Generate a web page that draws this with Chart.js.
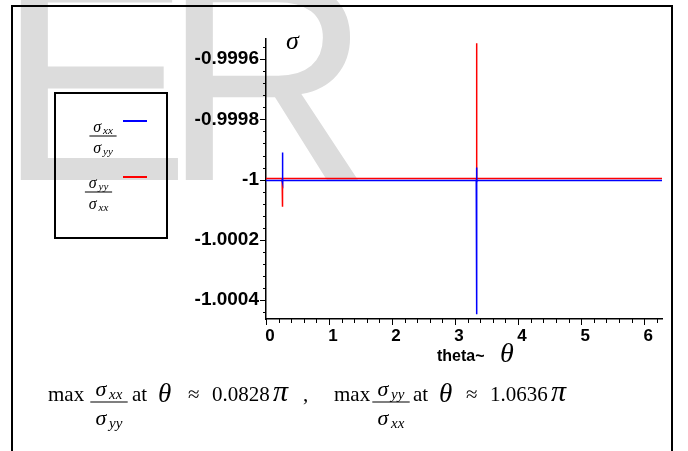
<!DOCTYPE html>
<html>
<head>
<meta charset="utf-8">
<script src="https://cdn.jsdelivr.net/npm/chart.js@4.4.1/dist/chart.umd.min.js"></script>
<style>
  html, body { margin: 0; padding: 0; background: #fff; }
  #wrap { position: relative; width: 688px; height: 451px; }
</style>
</head>
<body>
<div id="wrap"><canvas id="canvas" width="688" height="451"></canvas></div>
<script>
// values
var thetaBlue = [0, 0.256, 0.259, 0.262, 0.265, 0.268, 3.336, 3.340, 3.343, 3.346, 3.350, 6.2832];
var sigmaBlue = [-1.0000033, -1.0000033, -0.99991, -1.00001, -0.999995, -1.0000033,
    -1.0000033, -0.99996, -1.000447, -1.00001, -1.0000033, -1.0000033];
var thetaRed = [0, 0.256, 0.259, 0.262, 0.265, 3.336, 3.340, 3.343, 3.346, 6.2832];
var sigmaRed = [-0.9999967, -0.9999967, -1.000005, -1.00009, -0.9999967,
    -0.9999967, -0.999547, -1.000005, -0.9999967, -0.9999967];

var xTickValues = [0, 1, 2, 3, 4, 5, 6];
var xTickLabels = ['0', '1', '2', '3', '4', '5', '6'];
var yTickValues = [-0.9996, -0.9998, -1, -1.0002, -1.0004];
var yTickLabels = ['-0.9996', '-0.9998', '-1', '-1.0002', '-1.0004'];

// legend fractions: numerator / denominator subscripts
var legendNum = ['xx', 'yy'];
var legendDen = ['yy', 'xx'];

const serif = "'Liberation Serif', 'Times New Roman', serif";
const sans = "'Liberation Sans', Arial, sans-serif";

function pairs(xs, ys) {
    return xs.map((x, i) => ({x: x, y: ys[i]}));
}

function findLabel(values, labels, v) {
    for (let i = 0; i < values.length; i++) {
        if (Math.abs(values[i] - v) < 1e-9) return labels[i];
    }
    return '';
}

function sigmaWidth(ctx, sub, size) {
    ctx.font = 'italic ' + size + 'px ' + serif;
    let w = ctx.measureText('σ').width + size * 0.12;
    ctx.font = 'italic ' + Math.round(size * 0.68) + 'px ' + serif;
    return w + ctx.measureText(sub).width;
}

function drawSigma(ctx, sub, x, y, size) {
    ctx.textAlign = 'left';
    ctx.font = 'italic ' + size + 'px ' + serif;
    ctx.fillText('σ', x, y);
    let w = ctx.measureText('σ').width + size * 0.12;
    ctx.font = 'italic ' + Math.round(size * 0.68) + 'px ' + serif;
    ctx.fillText(sub, x + w, y + size * 0.12);
}

function drawFrac(ctx, cx, barY, numSub, denSub, size) {
    let wn = sigmaWidth(ctx, numSub, size);
    let wd = sigmaWidth(ctx, denSub, size);
    drawSigma(ctx, numSub, cx - wn / 2, barY - size * 0.27, size);
    drawSigma(ctx, denSub, cx - wd / 2, barY + size * 1.05, size);
    let bw = size * 1.7;
    ctx.fillRect(cx - bw / 2, barY - 0.5, bw, 1);
}

function word(ctx, s, x, y, font) {
    ctx.font = font;
    ctx.textAlign = 'left';
    ctx.fillText(s, x, y);
}

const decorations = {
    id: 'decorations',
    beforeDraw(chart) {
        // grey watermark behind the plot
        const ctx = chart.ctx;
        ctx.save();
        ctx.fillStyle = '#dcdcdc';
        ctx.textBaseline = 'alphabetic';
        ctx.textAlign = 'left';
        ctx.font = "290px " + sans;
        ctx.fillText('E', -3, 180);
        ctx.fillText('R', 162, 180);
        ctx.restore();
    },
    afterDraw(chart) {
        const ctx = chart.ctx;
        const xs = chart.scales.x, ys = chart.scales.y;
        ctx.save();
        ctx.strokeStyle = '#000';
        ctx.fillStyle = '#000';
        ctx.textBaseline = 'alphabetic';

        // tick marks, long for labelled ticks
        ctx.lineWidth = 1;
        ctx.beginPath();
        ys.ticks.forEach(t => {
            let py = Math.round(ys.getPixelForValue(t.value)) + 0.5;
            let len = findLabel(yTickValues, yTickLabels, t.value) ? 6 : 3;
            ctx.moveTo(chart.chartArea.left - len, py);
            ctx.lineTo(chart.chartArea.left, py);
        });
        xs.ticks.forEach(t => {
            let px = Math.round(xs.getPixelForValue(t.value)) + 0.5;
            let len = findLabel(xTickValues, xTickLabels, t.value) ? 6 : 4;
            ctx.moveTo(px, chart.chartArea.bottom);
            ctx.lineTo(px, chart.chartArea.bottom + len);
        });
        ctx.stroke();

        // axis names
        word(ctx, 'σ', 286, 49, 'italic 26px ' + serif);
        word(ctx, 'theta~', 437, 361, "bold 16px " + sans);
        word(ctx, 'θ', 500, 362, 'italic 28px ' + serif);

        // outer frame
        ctx.lineWidth = 2;
        ctx.strokeRect(12, 6, 660, 460);

        // legend
        ctx.strokeRect(55, 93, 112, 145);
        const rows = [[103, 136, 121], [98.5, 192, 177]];
        chart.data.datasets.forEach((ds, i) => {
            ctx.fillStyle = '#000';
            drawFrac(ctx, rows[i][0], rows[i][1], legendNum[i], legendDen[i], 16);
            ctx.strokeStyle = ds.borderColor;
            ctx.lineWidth = 2;
            ctx.beginPath();
            ctx.moveTo(123, rows[i][2]);
            ctx.lineTo(147, rows[i][2]);
            ctx.stroke();
        });

        // maxima line under the plot
        ctx.fillStyle = '#000';
        const f = '21px ' + serif, big = 'italic 27px ' + serif;
        word(ctx, 'max', 48, 401, f);
        drawFrac(ctx, 109, 402, 'xx', 'yy', 22);
        word(ctx, 'at', 132, 401, f);
        word(ctx, 'θ', 158, 402, big);
        word(ctx, '≈', 188, 401, f);
        word(ctx, '0.0828', 212, 401, f);
        word(ctx, 'π', 273, 401, 'italic 30px ' + serif);
        word(ctx, ',', 303, 401, f);
        word(ctx, 'max', 334, 401, f);
        drawFrac(ctx, 391, 402, 'yy', 'xx', 22);
        word(ctx, 'at', 413, 401, f);
        word(ctx, 'θ', 439, 402, big);
        word(ctx, '≈', 466, 401, f);
        word(ctx, '1.0636', 490, 401, f);
        word(ctx, 'π', 551, 401, 'italic 30px ' + serif);
        ctx.restore();
    }
};

const canvas = document.getElementById("canvas");
const data = {
    datasets: [
        {
            label: 'σxx/σyy',
            borderColor: 'rgb(0, 0, 255)',
            backgroundColor: 'rgb(0, 0, 255)',
            data: pairs(thetaBlue, sigmaBlue)
        },
        {
            label: 'σyy/σxx',
            borderColor: 'rgb(255, 0, 0)',
            backgroundColor: 'rgb(255, 0, 0)',
            data: pairs(thetaRed, sigmaRed)
        }
    ]
};
const options = {
    responsive: false,
    animation: false,
    showLine: true,
    layout: { padding: { left: 166, top: 39, right: 26, bottom: 102 } },
    elements: {
        point: { radius: 0, hoverRadius: 0 },
        line: { borderWidth: 1.5, tension: 0 }
    },
    plugins: {
        legend: { display: false },
        tooltip: { enabled: false }
    },
    scales: {
        x: {
            type: 'linear',
            min: 0,
            max: 2 * Math.PI,
            grid: { display: false, drawTicks: false },
            border: { display: true, color: '#000', width: 1.5 },
            afterBuildTicks: scale => {
                scale.ticks = [];
                for (let k = 0; k <= 31; k++) scale.ticks.push({ value: k * 0.2 });
            },
            afterFit: scale => { scale.height = 30; },
            ticks: {
                autoSkip: false,
                maxRotation: 0,
                padding: 7,
                labelOffset: 4,
                color: '#000',
                font: { family: sans, size: 17, weight: 'bold' },
                callback: value => findLabel(xTickValues, xTickLabels, value)
            }
        },
        y: {
            min: -1.000463,
            max: -0.999533,
            grid: { display: false, drawTicks: false },
            border: { display: true, color: '#000', width: 1.5 },
            afterBuildTicks: scale => {
                scale.ticks = [];
                for (let k = -11; k <= 11; k++) scale.ticks.push({ value: -1 + k * 0.00004 });
            },
            afterFit: scale => { scale.width = 100; },
            ticks: {
                autoSkip: false,
                padding: 7,
                color: '#000',
                font: { family: sans, size: 19, weight: 'bold' },
                callback: value => findLabel(yTickValues, yTickLabels, value)
            }
        }
    }
};
const config = {
    type: 'scatter',
    data: data,
    options: options,
    plugins: [decorations]
};
const chart = new Chart(canvas, config);
</script>
</body>
</html>
